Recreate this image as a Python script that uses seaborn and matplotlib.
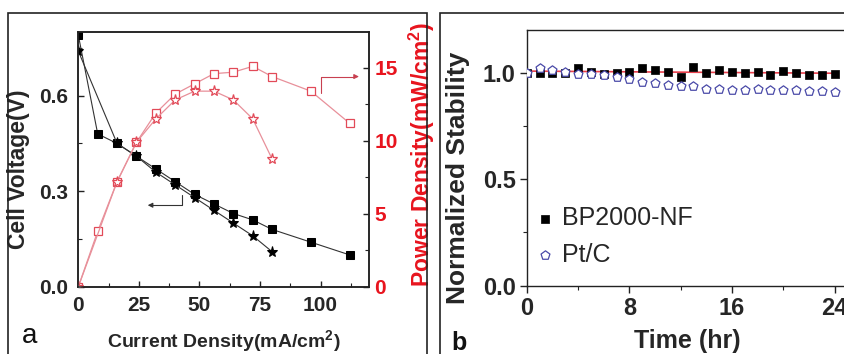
import matplotlib
matplotlib.use('Agg')
import numpy as np
import seaborn as sns
import matplotlib.pyplot as plt
from matplotlib.patches import Rectangle
from matplotlib.ticker import MultipleLocator

# panel a: polarization / power density curves
current_sq = [0, 8, 16, 24, 32, 40, 48, 56, 64, 72, 80, 96, 112]
voltage_sq = [0.79, 0.48, 0.45, 0.41, 0.37, 0.33, 0.29, 0.26, 0.23, 0.21, 0.18, 0.14, 0.10]
power_sq = [0, 3.8, 7.2, 9.9, 11.9, 13.2, 13.9, 14.6, 14.7, 15.1, 14.4, 13.4, 11.2]

current_st = [0, 16, 24, 32, 40, 48, 56, 64, 72, 80]
voltage_st = [0.74, 0.45, 0.41, 0.36, 0.32, 0.28, 0.24, 0.20, 0.16, 0.11]
power_st = [0, 7.2, 9.9, 11.5, 12.8, 13.4, 13.4, 12.8, 11.5, 8.75]

# panel b: stability over time
hours = list(range(25))
bp2000 = [1.0, 1.0, 1.0, 1.0, 1.02, 1.005, 0.995, 1.0, 1.005, 1.02, 1.014, 1.005, 0.98,
          1.028, 1.0, 1.01, 1.002, 0.997, 1.005, 0.989, 1.006, 0.998, 0.989, 0.988, 0.995]
ptc = [1.0, 1.023, 1.012, 1.003, 0.992, 0.992, 0.989, 0.981, 0.969, 0.958, 0.949, 0.942, 0.938,
       0.938, 0.925, 0.925, 0.917, 0.917, 0.922, 0.919, 0.919, 0.919, 0.914, 0.914, 0.91]

sns.set_theme(style='ticks')
plt.rcParams['font.family'] = ['Liberation Sans', 'DejaVu Sans']
plt.rcParams['font.weight'] = 'bold'
plt.rcParams['axes.labelweight'] = 'bold'

red = '#e8141e'
pink_line = '#e8909a'
pink_mark = '#e24a58'

fig = plt.figure(figsize=(8.45, 3.54), dpi=100)

# outer frames
fig.add_artist(Rectangle((0.0098, -0.05), 0.495, 1.0124, transform=fig.transFigure,
                         fill=False, lw=1.2, ec='#222222'))
fig.add_artist(Rectangle((0.5207, -0.05), 0.6, 1.0133, transform=fig.transFigure,
                         fill=False, lw=1.2, ec='#222222'))

# ---- panel a ----
ax = fig.add_axes([0.0927, 0.190, 0.344, 0.7195])
ax2 = ax.twinx()

sns.lineplot(x=current_sq, y=voltage_sq, ax=ax, sort=False, color='#333333', lw=0.8,
             marker='s', markersize=5.5, markerfacecolor='black', markeredgecolor='black')
sns.lineplot(x=current_st, y=voltage_st, ax=ax, sort=False, color='#333333', lw=0.8,
             marker='*', markersize=8, markerfacecolor='black', markeredgecolor='black')
sns.lineplot(x=current_sq, y=power_sq, ax=ax2, sort=False, color=pink_line, lw=0.9,
             marker='s', markersize=5.5, markerfacecolor='white', markeredgecolor=pink_mark,
             markeredgewidth=0.9)
sns.lineplot(x=current_st, y=power_st, ax=ax2, sort=False, color=pink_line, lw=0.9,
             marker='*', markersize=8, markerfacecolor='white', markeredgecolor=pink_mark,
             markeredgewidth=0.9)

ax.set_xlim(0, 120)
ax.set_ylim(0, 0.8)
ax2.set_ylim(0, 17.45)
ax.xaxis.set_major_locator(MultipleLocator(25))
ax.xaxis.set_minor_locator(MultipleLocator(12.5))
ax.yaxis.set_major_locator(MultipleLocator(0.3))
ax.yaxis.set_minor_locator(MultipleLocator(0.15))
ax2.yaxis.set_major_locator(MultipleLocator(5))
ax2.yaxis.set_minor_locator(MultipleLocator(2.5))

ax.tick_params(which='both', direction='in', top=False, right=False, color='#222222')
ax.tick_params(which='major', length=4, width=1, labelsize=15, pad=7)
ax.tick_params(which='minor', length=3, width=0.8)
ax2.tick_params(which='both', direction='in', color='#222222')
ax2.tick_params(which='major', length=4, width=1, labelsize=15, labelcolor=red, pad=4)
ax2.tick_params(which='minor', length=3, width=0.8)
for lab in ax.get_xticklabels() + ax.get_yticklabels() + ax2.get_yticklabels():
    lab.set_fontweight('bold')

for a in (ax, ax2):
    for sp in a.spines.values():
        sp.set_linewidth(1.1)
        sp.set_color('#222222')

ax.set_xlabel('Current Density(mA/cm$^\\mathregular{2}$)', fontsize=14)
ax.set_ylabel('Cell Voltage(V)', fontsize=16.5)
ax2.set_ylabel('Power Density(mW/cm$^\\mathregular{2}$)', fontsize=16.5, color=red)
ax.xaxis.set_label_coords(0.5, -0.165)
ax.yaxis.set_label_coords(-0.165, 0.46)
ax2.yaxis.set_label_coords(1.13, 0.52)

# guide arrows
ax.plot([42.8, 42.8, 30], [0.287, 0.256, 0.256], color='#333333', lw=0.8)
ax.annotate('', xy=(27.5, 0.256), xytext=(31, 0.256),
            arrowprops=dict(arrowstyle='-|>', color='#333333', lw=0.8, mutation_scale=7))
ax2.plot([100, 100, 114], [13.3, 14.4, 14.4], color='#c84050', lw=0.8)
ax2.annotate('', xy=(117, 14.4), xytext=(113.5, 14.4),
             arrowprops=dict(arrowstyle='-|>', color='#c84050', lw=0.8, mutation_scale=7))

fig.text(0.026, 0.031, 'a', fontsize=20, fontweight='normal', color='#111111')

# ---- panel b ----
axb = fig.add_axes([0.6233, 0.193, 0.3948, 0.7223])
sns.regplot(x=hours, y=bp2000, ax=axb, scatter=False, ci=None, color='#e8404c',
            line_kws={'lw': 1.2})
sns.scatterplot(x=hours, y=bp2000, ax=axb, marker='s', s=30, color='black',
                edgecolor='black', linewidth=0.5, label='BP2000-NF', zorder=3)
sns.scatterplot(x=hours, y=ptc, ax=axb, marker='p', s=45, color='white',
                edgecolor='#4a4aa8', linewidth=0.9, label='Pt/C', zorder=3)

axb.set_xlim(0, 26)
axb.set_ylim(0, 1.2)
axb.xaxis.set_major_locator(MultipleLocator(8))
axb.xaxis.set_minor_locator(MultipleLocator(4))
axb.yaxis.set_major_locator(MultipleLocator(0.5))
axb.yaxis.set_minor_locator(MultipleLocator(0.25))
axb.tick_params(which='both', direction='out', color='#222222')
axb.tick_params(which='major', length=5, width=1, labelsize=17, pad=3)
axb.tick_params(which='minor', length=3, width=0.8)
for lab in axb.get_xticklabels() + axb.get_yticklabels():
    lab.set_fontweight('bold')
for sp in axb.spines.values():
    sp.set_linewidth(1.0)
    sp.set_color('#222222')

axb.set_xlabel('Time (hr)', fontsize=18)
axb.set_ylabel('Normalized Stability', fontsize=19)
axb.xaxis.set_label_coords(0.48, -0.17)
axb.yaxis.set_label_coords(-0.17, 0.42)

axb.legend(loc='upper left', bbox_to_anchor=(0.03, 0.31), frameon=False,
           prop={'size': 18, 'weight': 'normal'}, handlelength=0.7, handletextpad=0.3,
           labelspacing=0.5, borderpad=0, borderaxespad=0, markerscale=1.0)

fig.text(0.534, 0.011, 'b', fontsize=18, fontweight='bold', color='#111111')

fig.savefig('out.png', dpi=100)
